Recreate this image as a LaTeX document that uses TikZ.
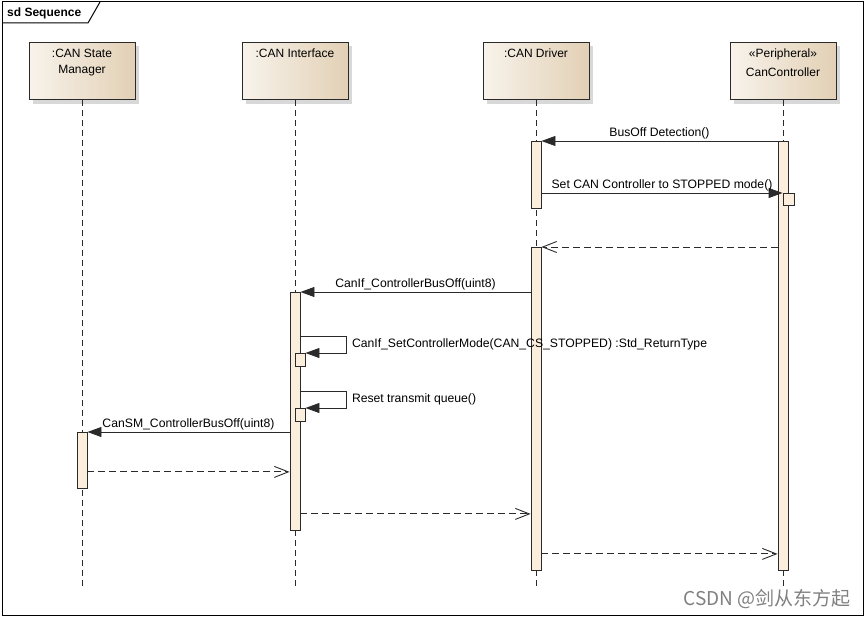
\documentclass[tikz,border=0pt]{standalone}
\usepackage{fontspec}
\setmainfont{Liberation Sans}
\newfontfamily\cjk{Noto Sans CJK SC}
\usepackage{tikz}
\usetikzlibrary{arrows.meta,shadows,calc}

\definecolor{boxlight}{HTML}{F8F3EB}
\definecolor{boxdark}{HTML}{E2D0B5}
\definecolor{barfill}{HTML}{FCEEDD}
\definecolor{linegray}{HTML}{2A2A2A}

\begin{document}
\begin{tikzpicture}[x=1pt, y=-1pt,
	lifebox/.style={draw=linegray, line width=1pt, minimum width=106, minimum height=57, inner sep=0, anchor=north, left color=boxlight, right color=boxdark, drop shadow={shadow xshift=4pt, shadow yshift=-4pt, fill=black!30}},
	boxtext/.style={font=\fontsize{12}{16}\selectfont, align=center, anchor=north, inner sep=0},
	actbar/.style={draw=linegray, line width=0.9pt, fill=barfill, minimum width=10, inner sep=0, anchor=north},
	lifeline/.style={draw=linegray, line width=0.9pt, dash pattern=on 6pt off 4pt},
	call/.style={draw=linegray, line width=0.9pt, -{Triangle[length=14pt, width=10pt]}},
	reply/.style={draw=linegray, line width=0.9pt, dash pattern=on 7pt off 4pt, -{Straight Barb[length=14pt, width=11pt]}},
	msgtxt/.style={font=\fontsize{12.2}{14}\selectfont, inner sep=2pt}
]
\useasboundingbox (0,0) rectangle (865,618);

% frame
\draw[line width=1pt] (2,2) rectangle (863,615);
\draw[line width=1pt] (2,23) -- (88,23) -- (100,2);
\node[font=\fontsize{12}{14}\selectfont\bfseries, anchor=west, inner sep=0] (tag) at (7,13) {sd Sequence};

% lifeline heads
\node[lifebox] (sm) at (82,42) {};
\node[lifebox] (ci) at (295,42) {};
\node[lifebox] (cd) at (536,42) {};
\node[lifebox] (cc) at (783,42) {};
\node[boxtext] (smtxt) at (82,48.5) {:CAN State\\Manager};
\node[boxtext] (citxt) at (295,48.5) {:CAN Interface};
\node[boxtext] (cdtxt) at (536,48.5) {:CAN Driver};
\node[boxtext] (cctxt) at (783,48.5) {«Peripheral»\\[3pt]CanController};

\coordinate (bottom) at (0,587);
\foreach \l in {sm,ci,cd,cc}
	\draw[lifeline] (\l.south) -- (\l.south |- bottom);

% activations
\node[actbar, minimum height=67] (cdbarA) at (536,141) {};
\node[actbar, minimum height=429] (ccbar) at (783,141) {};
\node[actbar, minimum width=11, minimum height=12] (ccsq) at (788.5,193) {};
\node[actbar, minimum height=323] (cdbarB) at (536,247) {};
\node[actbar, minimum height=238] (cibar) at (295,292) {};
\node[actbar, minimum height=13] (cisqA) at (300,353) {};
\node[actbar, minimum height=13] (cisqB) at (300,408) {};
\node[actbar, minimum height=56] (smbar) at (82,432) {};

% messages
\draw[call] (ccbar.north west) -- node[msgtxt, above] {BusOff Detection()} (cdbarA.north east);
\draw[call] (cdbarA.east |- ccsq.north) -- node[msgtxt, above] {Set CAN Controller to STOPPED mode()} (ccsq.north west);
\draw[reply] (ccbar.west |- cdbarB.north) -- (cdbarB.north east);
\draw[call] (cdbarB.west |- cibar.north) -- node[msgtxt, above] {CanIf\_ControllerBusOff(uint8)} (cibar.north east);
\draw[call] (cisqA.north west) ++(5,-17) -- ++(47,0) -- node[msgtxt, right, inner sep=5pt] {CanIf\_SetControllerMode(CAN\_CS\_STOPPED) :Std\_ReturnType} ++(0,17) -- (cisqA.north east);
\draw[call] (cisqB.north west) ++(5,-17) -- ++(47,0) -- node[msgtxt, right, inner sep=5pt] {Reset transmit queue()} ++(0,17) -- (cisqB.north east);
\draw[call] (cibar.west |- smbar.north) -- node[msgtxt, above] {CanSM\_ControllerBusOff(uint8)} (smbar.north east);
\draw[reply] ($(smbar.south east)+(0,-17)$) coordinate (r2) -- (cibar.west |- r2);
\draw[reply] ($(cibar.south east)+(0,-17)$) coordinate (r3) -- (cdbarB.west |- r3);
\draw[reply] ($(cdbarB.south east)+(0,-17)$) coordinate (r4) -- (ccbar.west |- r4);

\node[font=\cjk\fontsize{19}{22}\selectfont, text=black!50, anchor=east, inner sep=0] (mark) at (851,599) {CSDN @剑从东方起};
\end{tikzpicture}
\end{document}
